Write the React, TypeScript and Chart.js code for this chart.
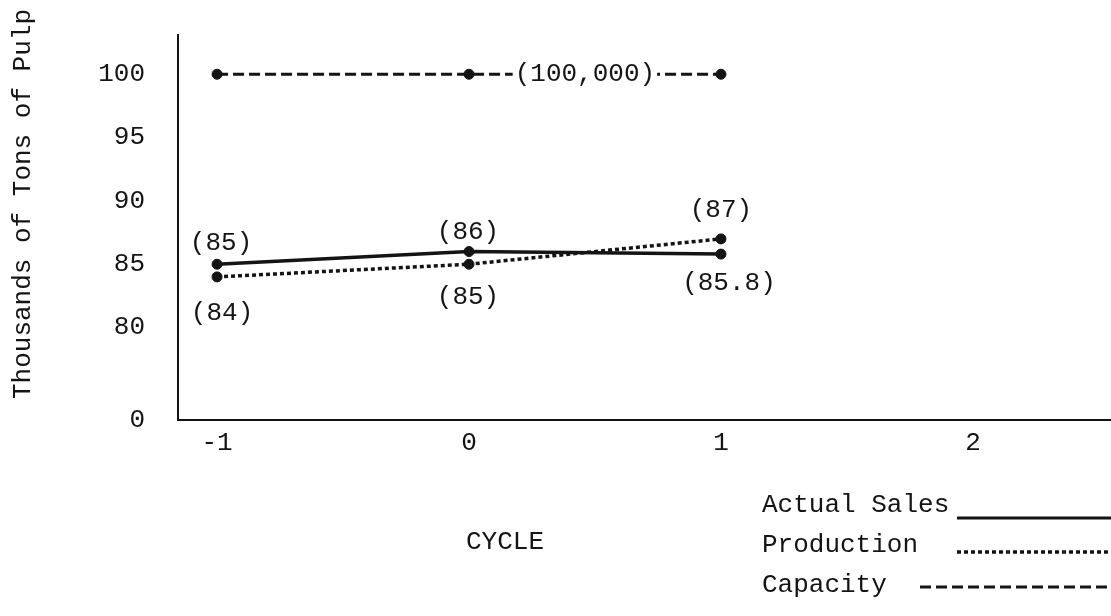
import React, { useEffect, useRef } from 'react';
import { Chart, registerables } from 'chart.js';

Chart.register(...registerables);

// ---- data ----
const cycles = [-1, 0, 1];
const actualSales = [85, 86, 85.8];
const production = [84, 85, 87];
const capacity = [100, 100, 100];
const actualSalesLabels = ['(85)', '(86)', '(85.8)'];
const productionLabels = ['(84)', '(85)', '(87)'];
const capacityLabel = '(100,000)';
const xTicks = [-1, 0, 1, 2];
const yTicks = [0, 80, 85, 90, 95, 100];
const yBreakValue = 72.7; // value at which the broken axis shows its "0" tick
const seriesNames = ['Actual Sales', 'Production', 'Capacity'];
const xTitle = 'CYCLE';
const yTitle = 'Thousands of Tons of Pulp';

// ---- styles ----
const INK = '#141414';
const FAMILY = '"Liberation Mono", "DejaVu Sans Mono", monospace';
const FONT = `26px ${FAMILY}`;
const SALES_DASH: number[] = [];
const PROD_DASH = [4, 3];
const CAP_DASH = [11, 5];
const salesLabelOffsets = [[4, -21], [-1, -19], [8, 29]];
const prodLabelOffsets = [[5, 36], [-1, 33], [0, -29]];
const capacityLabelAt = 0.46;

const textPlugin = {
  id: 'typedText',
  afterDatasetsDraw(chart: any) {
    const ctx = chart.ctx as CanvasRenderingContext2D;
    const xs = chart.scales.x;
    const ys = chart.scales.y;
    ctx.save();
    ctx.font = FONT;
    ctx.fillStyle = INK;
    ctx.textAlign = 'center';
    ctx.textBaseline = 'middle';

    const drawPointLabels = (dsIndex: number, labels: string[], offs: number[][]) => {
      const meta = chart.getDatasetMeta(dsIndex);
      meta.data.forEach((pt: any, i: number) => {
        ctx.fillText(labels[i], pt.x + offs[i][0], pt.y + offs[i][1]);
      });
    };
    drawPointLabels(0, actualSalesLabels, salesLabelOffsets);
    drawPointLabels(1, productionLabels, prodLabelOffsets);

    // capacity label interrupting the dashed line
    const cx = xs.getPixelForValue(capacityLabelAt);
    const cy = ys.getPixelForValue(capacity[1]);
    const w = ctx.measureText(capacityLabel).width;
    ctx.fillStyle = '#ffffff';
    ctx.fillRect(cx - w / 2 - 2, cy - 12, w + 4, 24);
    ctx.fillStyle = INK;
    ctx.fillText(capacityLabel, cx, cy);
    ctx.restore();
  },
  afterDraw(chart: any) {
    const ctx = chart.ctx as CanvasRenderingContext2D;
    ctx.save();
    ctx.font = FONT;
    ctx.fillStyle = INK;
    ctx.strokeStyle = INK;

    // y-axis title
    ctx.save();
    ctx.translate(23, 204);
    ctx.rotate(-Math.PI / 2);
    ctx.textAlign = 'center';
    ctx.textBaseline = 'middle';
    ctx.fillText(yTitle, 0, 0);
    ctx.restore();

    // x-axis title
    ctx.textAlign = 'center';
    ctx.textBaseline = 'middle';
    ctx.fillText(xTitle, 505, 542);

    // legend
    ctx.textAlign = 'left';
    const rows = [
      { text: seriesNames[0], ty: 505, x0: 957, ly: 518, dash: SALES_DASH, lw: 3 },
      { text: seriesNames[1], ty: 545, x0: 957, ly: 552, dash: PROD_DASH, lw: 3.5 },
      { text: seriesNames[2], ty: 585, x0: 920, ly: 587, dash: CAP_DASH, lw: 3 },
    ];
    rows.forEach((r) => {
      ctx.fillText(r.text, 762, r.ty);
      ctx.beginPath();
      ctx.setLineDash(r.dash);
      ctx.lineWidth = r.lw;
      ctx.moveTo(r.x0, r.ly);
      ctx.lineTo(1111, r.ly);
      ctx.stroke();
    });
    ctx.setLineDash([]);
    ctx.restore();
  },
};

const zeroPad = (s: any) => {
  s.paddingTop = 0;
  s.paddingBottom = 0;
  s.paddingLeft = 0;
  s.paddingRight = 0;
};

export default function App() {
  const ref = useRef<HTMLCanvasElement | null>(null);

  useEffect(() => {
    if (!ref.current) return;
    const mk = (vals: number[]) => cycles.map((x, i) => ({ x, y: vals[i] }));
    const common = {
      borderColor: INK,
      pointRadius: 5,
      pointBackgroundColor: INK,
      pointBorderColor: INK,
      pointBorderWidth: 1,
      fill: false,
      tension: 0,
    };
    const chart = new Chart(ref.current, {
      type: 'line',
      data: {
        datasets: [
          { ...common, label: seriesNames[0], data: mk(actualSales), borderWidth: 3.5, borderDash: SALES_DASH },
          { ...common, label: seriesNames[1], data: mk(production), borderWidth: 3.5, borderDash: PROD_DASH },
          { ...common, label: seriesNames[2], data: mk(capacity), borderWidth: 3, borderDash: CAP_DASH },
        ],
      },
      options: {
        responsive: false,
        animation: false,
        devicePixelRatio: 1,
        layout: { autoPadding: false, padding: { top: 35, left: 0, right: 0, bottom: 0 } },
        plugins: {
          legend: { display: false },
          tooltip: { enabled: false },
          title: { display: false },
        },
        scales: {
          x: {
            type: 'linear',
            min: -1.155,
            max: 2.548,
            afterFit: (s: any) => {
              s.height = 196;
              zeroPad(s);
            },
            afterBuildTicks: (s: any) => {
              s.ticks = xTicks.map((v) => ({ value: v }));
            },
            grid: { display: false, drawTicks: false },
            border: { display: true, color: INK, width: 2 },
            ticks: {
              color: INK,
              font: { family: FAMILY, size: 26 },
              padding: 8,
              maxRotation: 0,
              autoSkip: false,
              callback: (v: any) => String(v),
            },
          },
          y: {
            type: 'linear',
            min: yBreakValue,
            max: 103.1,
            afterFit: (s: any) => {
              s.width = 178;
              zeroPad(s);
            },
            afterBuildTicks: (s: any) => {
              s.ticks = yTicks.map((v) => ({ value: v === 0 ? yBreakValue : v }));
            },
            grid: { display: false, drawTicks: false },
            border: { display: true, color: INK, width: 2 },
            ticks: {
              color: INK,
              font: { family: FAMILY, size: 26 },
              padding: 33,
              autoSkip: false,
              callback: (v: any) => (v === yBreakValue ? '0' : String(v)),
            },
          },
        },
      },
      plugins: [textPlugin],
    } as any);
    return () => chart.destroy();
  }, []);

  return (
    <div style={{ position: 'fixed', left: 0, top: 0, width: 1111, height: 616, background: '#fff' }}>
      <canvas ref={ref} width={1111} height={616} style={{ display: 'block' }} />
    </div>
  );
}
